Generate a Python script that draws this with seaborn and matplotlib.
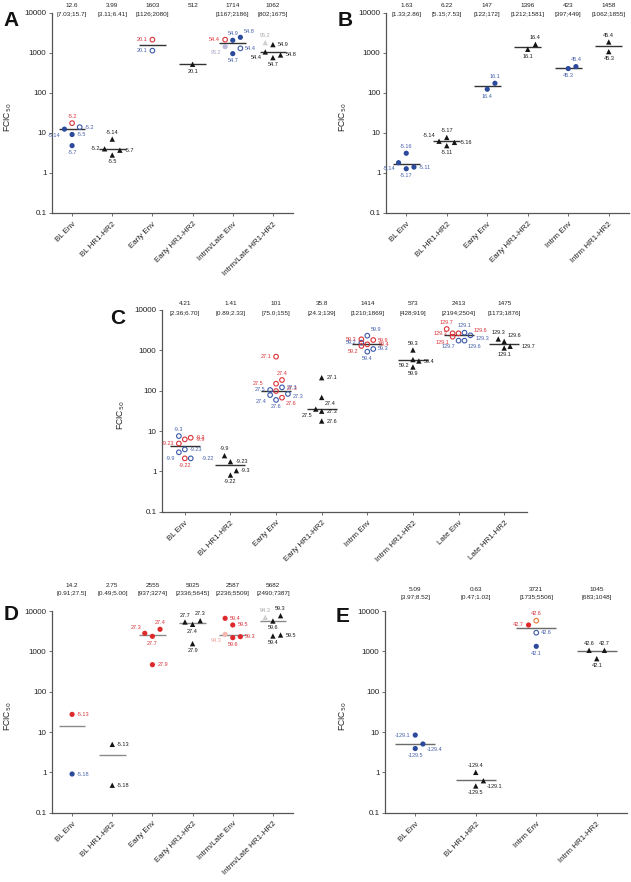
import matplotlib
matplotlib.use('Agg')
import matplotlib.pyplot as plt
import numpy as np
import pandas as pd
import seaborn as sns
from matplotlib.ticker import FixedLocator, FixedFormatter, NullLocator
from matplotlib.transforms import blended_transform_factory

# ======================= DATA =======================
# ---- Panel A ----
A_cats = ['BL Env', 'BL HR1-HR2', 'Early Env', 'Early HR1-HR2', 'Intrm/Late Env', 'Intrm/Late HR1-HR2']
A_medians = [12.6, 3.99, 1603, 512, 1714, 1062]
A_ci = ['[7.03;15.7]', '[3.11;6.41]', '[1126;2080]', '', '[1167;2186]', '[802;1675]']
A_pt_cat = [0, 0, 0, 0, 0, 1, 1, 1, 1, 2, 2, 3, 4, 4, 4, 4, 4, 4, 5, 5, 5, 5, 5]
A_pt_val = [12.4, 17.5, 13.9, 9.1, 4.8, 4.0, 7.0, 2.8, 3.7, 2125, 1130, 516,
            2125, 1420, 2045, 2430, 1290, 950, 1790, 1600, 1047, 757, 881]
A_pt_lab = ['-5.14', '-5.2', '-5.2', '-5.5', '-5.7', '-5.2', '-5.14', '-5.5', '-5.7', '20.1', '20.1', '20.1',
            '54.4', '95.2', '54.9', '54.8', '54.4', '54.7', '95.2', '54.9', '54.4', '54.7', '54.8']
A_pt_kind = ['fb', 'or', 'ob', 'fb', 'fb', 'tk', 'tk', 'tk', 'tk', 'or', 'ob', 'tk',
             'or', 'fl', 'fb', 'fb', 'ob', 'fb', 'tg', 'tk', 'tk', 'tk', 'tk']

# ---- Panel B ----
B_cats = ['BL Env', 'BL HR1-HR2', 'Early Env', 'Early HR1-HR2', 'Intrm Env', 'Intrm HR1-HR2']
B_medians = [1.63, 6.22, 147, 1396, 423, 1458]
B_ci = ['[1.33;2.86]', '[5.15;7.53]', '[122;172]', '[1212;1581]', '[397;449]', '[1062;1855]']
B_pt_cat = [0, 0, 0, 0, 1, 1, 1, 1, 2, 2, 3, 3, 4, 4, 5, 5]
B_pt_val = [1.8, 3.1, 1.27, 1.40, 6.2, 7.7, 4.8, 5.8, 123, 173, 1220, 1625, 403, 451, 1858, 1067]
B_pt_lab = ['-5.14', '-5.16', '-5.17', '-5.11', '-5.14', '-5.17', '-5.11', '-5.16',
            '16.4', '16.1', '16.1', '16.4', '45.3', '45.4', '45.4', '45.3']
B_pt_kind = ['fb', 'fb', 'fb', 'fb', 'tk', 'tk', 'tk', 'tk', 'fb', 'fb', 'tk', 'tk', 'fb', 'fb', 'tk', 'tk']

# ---- Panel C ----
C_cats = ['BL Env', 'BL HR1-HR2', 'Early Env', 'Early HR1-HR2', 'Intrm Env', 'Intrm HR1-HR2',
          'Late Env', 'Late HR1-HR2']
C_medians = [4.21, 1.41, 101, 35.8, 1414, 573, 2413, 1475]
C_ci = ['[2.36;6.70]', '[0.89;2.33]', '[75.0;155]', '[24.3;139]', '[1210;1869]', '[428;919]',
        '[2194;2504]', '[1173;1876]']
C_pt_cat = [0] * 8 + [1] * 4 + [2] * 10 + [3] * 5 + [4] * 8 + [5] * 4 + [6] * 8 + [7] * 4
C_pt_val = [7.5, 4.9, 6.2, 6.8, 2.1, 3.5, 2.97, 2.1,
            2.45, 1.74, 0.81, 1.04,
            697, 184, 149, 98, 67, 121, 104, 78, 83, 59,
            210, 68, 35, 31, 17.7,
            1876, 1803, 1410, 1283, 2310, 1550, 1080, 926,
            1020, 590, 544, 386,
            3380, 2640, 2180, 2640, 2740, 2355, 1740, 1740,
            1910, 1670, 1143, 1260]
C_pt_lab = ['-9.3', '-9.23', '-9.9', '-9.3', '-9.22', '-9.23', '-9.9', '-9.22',
            '-9.9', '-9.23', '-9.22', '-9.3',
            '27.1', '27.4', '27.5', '27.3', '27.6', '27.1', '27.5', '27.4', '27.3', '27.6',
            '27.1', '27.4', '27.5', '27.3', '27.6',
            '59.3', '59.9', '59.4', '59.2', '59.9', '59.2', '59.3', '59.4',
            '59.3', '59.2', '59.4', '59.9',
            '129.7', '129.3', '129.1', '129.6', '129.1', '129.3', '129.7', '129.6',
            '129.3', '129.6', '129.1', '129.7']
C_pt_kind = ['ob', 'or', 'or', 'or', 'or', 'ob', 'ob', 'ob',
             'tk', 'tk', 'tk', 'tk',
             'or', 'or', 'or', 'or', 'or', 'ob', 'ob', 'ob', 'ob', 'ob',
             'tk', 'tk', 'tk', 'tk', 'tk',
             'or', 'or', 'or', 'or', 'ob', 'ob', 'ob', 'ob',
             'tk', 'tk', 'tk', 'tk',
             'or', 'or', 'or', 'or', 'ob', 'ob', 'ob', 'ob',
             'tk', 'tk', 'tk', 'tk']

# ---- Panel D ----
D_cats = ['BL Env', 'BL HR1-HR2', 'Early Env', 'Early HR1-HR2', 'Intrm/Late Env', 'Intrm/Late HR1-HR2']
D_medians = [14.2, 2.75, 2555, 5025, 2587, 5682]
D_ci = ['[0.91;27.5]', '[0.49;5.00]', '[937;3274]', '[2336;5645]', '[2236;5509]', '[2490;7387]']
D_pt_cat = [0, 0, 1, 1, 2, 2, 2, 2, 3, 3, 3, 3, 4, 4, 4, 4, 4, 5, 5, 5, 5, 5]
D_pt_val = [27.4, 0.91, 4.95, 0.48, 2800, 2355, 3520, 467, 5340, 4680, 5750, 1550,
            6580, 4500, 2640, 2180, 2310, 6970, 7650, 5650, 2400, 2540]
D_pt_lab = ['-5.13', '-5.18', '-5.13', '-5.18', '27.3', '27.7', '27.4', '27.9', '27.7', '27.4', '27.3', '27.9',
            '59.4', '59.5', '94.3', '59.6', '59.3', '94.3', '59.3', '59.6', '59.4', '59.5']
D_pt_kind = ['fr', 'fb', 'tk', 'tk', 'fr', 'fr', 'fr', 'fr', 'tk', 'tk', 'tk', 'tk',
             'fr', 'fr', 'fp', 'fr', 'fr', 'tg', 'tk', 'tk', 'tk', 'tk']

# ---- Panel E ----
E_cats = ['BL Env', 'BL HR1-HR2', 'Intrm Env', 'Intrm HR1-HR2']
E_medians = [5.09, 0.63, 3721, 1045]
E_ci = ['[3.97;8.52]', '[0.47;1.02]', '[1735;5506]', '[683;1048]']
E_pt_cat = [0, 0, 0, 1, 1, 1, 2, 2, 2, 2, 3, 3, 3]
E_pt_val = [8.4, 5.05, 3.9, 1.0, 0.62, 0.46, 4500, 5750, 2900, 1330, 1060, 1060, 658]
E_pt_lab = ['-129.1', '-129.4', '-129.5', '-129.4', '-129.1', '-129.5', '42.7', '42.6', '42.6', '42.1',
            '42.6', '42.7', '42.1']
E_pt_kind = ['fb', 'fb', 'fb', 'tk', 'tk', 'tk', 'fr', 'oo', 'ob', 'fb', 'tk', 'tk', 'tk']

Y_TICKS = [0.1, 1, 10, 100, 1000, 10000]
Y_TICK_LABELS = ['0.1', '1', '10', '100', '1000', '10000']

# ======================= LAYOUT (dodge slots & label placement) =======================
A_slot = [-1, 0, 1, 0, 0, -1, 0, 0, 1, 0, 0, 0, -1, -1, 0, 1, 1, 0, -1, 0, -1, 0, 1]
A_lpos = ['bl', 'a', 'r', 'r', 'b', 'l', 'a', 'b', 'r', 'l', 'l', 'b', 'l', 'bl', 'a', 'ar', 'r', 'b',
          'a', 'r', 'bl', 'b', 'r']
B_slot = [-1, 0, 0, 1, -1, 0, 0, 1, 0, 1, 0, 1, 0, 1, 0, 0]
B_lpos = ['bl', 'a', 'b', 'r', 'al', 'a', 'b', 'r', 'b', 'a', 'b', 'a', 'b', 'a', 'a', 'b']
C_slot = [-1, -1, 0, 1, 0, 0, -1, 1,
          -1, 0, 0, 1,
          0, 1, 0, 0, 1, 1, -1, -1, 2, 0,
          0, 0, -1, 0, 0,
          -1, 1, 0, -1, 0, -1, 1, 0,
          0, 0, 1, 0,
          -2, -1, -1, 0, 1, 2, 0, 1,
          -1, 0, 0, 1]
C_lpos = ['a', 'l', 'rr', 'r', 'b', 'r', 'bl', 'rr',
          'a', 'r', 'b', 'r',
          'l', 'a', 'll', 'rra', 'br', 'r', 'l', 'bl', 'rb', 'b',
          'r', 'br', 'bl', 'r', 'r',
          'l', 'r', 'rr', 'bl', 'ar', 'l', 'r', 'b',
          'a', 'bl', 'r', 'b',
          'a', 'l', 'bl', 'rrra', 'a', 'rb', 'bl', 'br',
          'a', 'ar', 'b', 'rr']
D_slot = [0, 0, 0, 0, -1, 0, 1, 0, -1, 0, 1, 0, -1, 0, -1, 0, 1, -1, 1, 0, 0, 1]
D_lpos = ['r', 'r', 'r', 'r', 'al', 'b', 'a', 'r', 'a', 'b', 'a', 'b', 'r', 'r', 'bl', 'b', 'r',
          'a', 'a', 'b', 'b', 'r']
E_slot = [0, 1, 0, 0, 1, 0, -1, 0, 0, 0, -1, 1, 0]
E_lpos = ['l', 'br', 'b', 'a', 'br', 'b', 'l', 'a', 'r', 'b', 'a', 'a', 'b']

# marker styles per kind: (marker, color, filled, size)
KIND_STYLE = {
    'fb': ('o', '#2C4A9B', True, 14),
    'ob': ('o', '#3B59A8', False, 11),
    'or': ('o', '#D8343A', False, 11),
    'fr': ('o', '#DE2A2C', True, 14),
    'tk': ('^', '#151515', True, 15),
    'fl': ('o', '#BDB9DA', True, 14),
    'tg': ('^', '#CFCFCF', True, 15),
    'fp': ('o', '#F4B8B0', True, 14),
    'oo': ('o', '#E9773A', False, 11),
}
KIND_TEXT = {'fb': '#4560AA', 'ob': '#4560AA', 'or': '#D8343A', 'fr': '#D8343A', 'tk': '#1A1A1A',
             'fl': '#A6A3C8', 'tg': '#A8A8A8', 'fp': '#EFA49B', 'oo': '#D8343A'}
LPOS = {
    'l': (-3.5, 0, 'right', 'center'), 'r': (3.5, 0, 'left', 'center'),
    'a': (0, 3.2, 'center', 'bottom'), 'b': (0, -3.2, 'center', 'top'),
    'al': (-2.5, 2.5, 'right', 'bottom'), 'ar': (2.5, 2.5, 'left', 'bottom'),
    'bl': (-2.5, -2.5, 'right', 'top'), 'br': (2.5, -2.5, 'left', 'top'),
    'rr': (8, 0, 'left', 'center'), 'll': (-9, 0, 'right', 'center'),
    'rra': (8, 1.8, 'left', 'center'), 'rb': (3.5, -2.2, 'left', 'center'),
    'rrra': (11, 2.2, 'left', 'center'),
}

sns.set_theme(style='ticks')
plt.rcParams['font.family'] = ['Liberation Sans', 'DejaVu Sans']
plt.rcParams['axes.edgecolor'] = '#555555'

fig = plt.figure(figsize=(6.31, 8.82), dpi=100)
W, H = 631.0, 882.0


def make_ax(left, right, top, bottom):
    return fig.add_axes([left / W, 1 - bottom / H, (right - left) / W, (bottom - top) / H])


def panel(ax, cats, medians, ci, pcat, pval, plab, pkind, slot, lpos, step,
          med_color, med_y, ci_y, letter, letter_xy, ylab_x):
    n = len(cats)
    df = pd.DataFrame({'cat': pcat, 'val': pval, 'lab': plab, 'kind': pkind,
                       'slot': slot, 'lpos': lpos})
    df['x'] = df['cat'] + df['slot'] * step
    ax.set_yscale('log')
    # median lines
    for i, m in enumerate(medians):
        ax.hlines(m, i - 0.33, i + 0.33, color=med_color, lw=1.0, zorder=2)
    for kind, sub in df.groupby('kind', sort=False):
        mk, col, filled, s = KIND_STYLE[kind]
        if filled:
            sns.scatterplot(data=sub, x='x', y='val', ax=ax, marker=mk, color=col, s=s,
                            edgecolor='none', linewidth=0, legend=False, zorder=3)
        else:
            sns.scatterplot(data=sub, x='x', y='val', ax=ax, marker='o', color=col, s=s,
                            facecolor='none', edgecolor=col, linewidth=0.8, legend=False, zorder=3)
    for _, r in df.iterrows():
        dx, dy, ha, va = LPOS[r['lpos']]
        ax.annotate(r['lab'], (r['x'], r['val']), xytext=(dx, dy), textcoords='offset points',
                    fontsize=4.0, color=KIND_TEXT[r['kind']], ha=ha, va=va, zorder=4)
    ax.set_ylim(0.1, 10000)
    ax.set_xlim(-0.5, n - 0.5)
    ax.yaxis.set_major_locator(FixedLocator(Y_TICKS))
    ax.yaxis.set_major_formatter(FixedFormatter(Y_TICK_LABELS))
    ax.yaxis.set_minor_locator(NullLocator())
    ax.set_xticks(range(n))
    ax.set_xticklabels(cats, rotation=45, ha='right', rotation_mode='anchor')
    ax.tick_params(axis='both', labelsize=5.8, length=2.5, width=0.6, pad=1.5, colors='#555555',
                   labelcolor='#222222')
    ax.tick_params(axis='x', pad=3)
    ax.set_xlabel('')
    ax.set_ylabel(r'FCIC$_{50}$', fontsize=6.2, color='#222222')
    ax.yaxis.set_label_coords(ylab_x, 0.48)
    for sp in ['left', 'bottom']:
        ax.spines[sp].set_linewidth(0.9)
    sns.despine(ax=ax)
    tr = blended_transform_factory(ax.transData, ax.transAxes)
    for i in range(n):
        ax.text(i, med_y, '{:g}'.format(medians[i]), transform=tr, ha='center', va='center',
                fontsize=4.6, color='#222222', clip_on=False)
        if ci[i]:
            ax.text(i, ci_y, ci[i], transform=tr, ha='center', va='center',
                    fontsize=4.6, color='#222222', clip_on=False)
    fig.text(letter_xy[0] / W, 1 - letter_xy[1] / H, letter, fontsize=15, fontweight='bold',
             ha='center', va='center', color='#111111')


axA = make_ax(52, 293, 12.7, 213)
panel(axA, A_cats, A_medians, A_ci, A_pt_cat, A_pt_val, A_pt_lab, A_pt_kind, A_slot, A_lpos, 0.19,
      '#333333', 1.038, 0.9935, 'A', (11, 20), -0.158)

axB = make_ax(386, 629, 12.7, 213)
panel(axB, B_cats, B_medians, B_ci, B_pt_cat, B_pt_val, B_pt_lab, B_pt_kind, B_slot, B_lpos, 0.19,
      '#333333', 1.038, 0.9935, 'B', (345, 20), -0.152)

axC = make_ax(162, 527, 310, 511.7)
panel(axC, C_cats, C_medians, C_ci, C_pt_cat, C_pt_val, C_pt_lab, C_pt_kind, C_slot, C_lpos, 0.13,
      '#333333', 1.030, 0.985, 'C', (118, 318), -0.096)

axD = make_ax(52, 293, 611, 812.7)
panel(axD, D_cats, D_medians, D_ci, D_pt_cat, D_pt_val, D_pt_lab, D_pt_kind, D_slot, D_lpos, 0.19,
      '#8A8A8A', 1.125, 1.087, 'D', (11, 615), -0.158)

axE = make_ax(385, 627, 611, 812.7)
panel(axE, E_cats, E_medians, E_ci, E_pt_cat, E_pt_val, E_pt_lab, E_pt_kind, E_slot, E_lpos, 0.127,
      '#6A6A6A', 1.106, 1.066, 'E', (343, 617), -0.149)

fig.savefig('out.png', dpi=100)
